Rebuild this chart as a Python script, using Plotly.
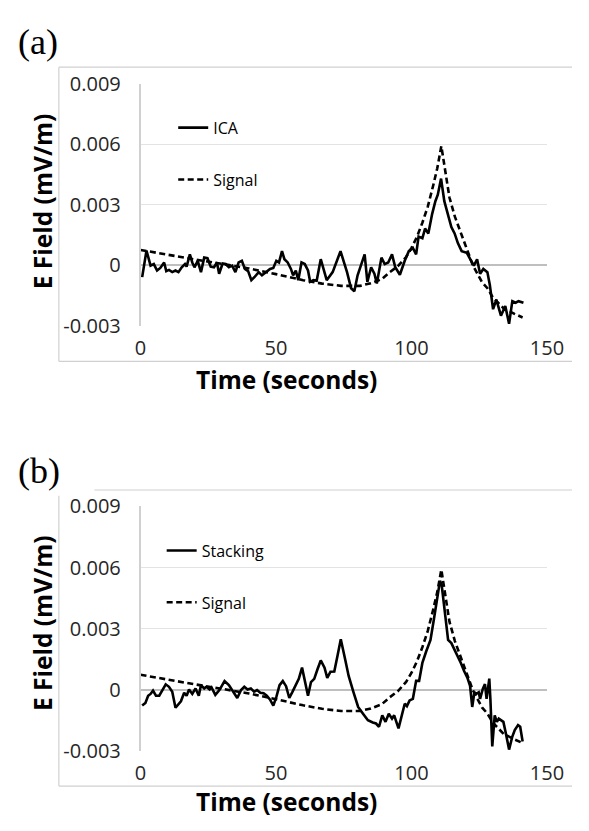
import plotly.graph_objects as go

# ---- data (E field in mV/m, time in seconds) ----
ica_t = [0.6, 2.2, 3.7, 4.9, 6.1, 7.3, 8.7, 9.5, 10.5, 11.7, 12.9, 14.0, 15.2, 16.4, 17.0, 18.2,
         19.1, 19.9, 21.1, 22.3, 23.5, 24.7, 25.9, 27.1, 28.2, 29.0, 30.3, 31.4, 32.6, 33.8, 35.0,
         36.2, 37.4, 38.5, 39.7, 40.9, 42.1, 43.6, 44.8, 46.4, 47.8, 49.0, 50.1, 51.1, 52.2, 53.1,
         54.3, 55.5, 56.3, 57.3, 58.2, 59.4, 60.6, 61.8, 62.6, 63.8, 65.0, 66.5, 68.7, 70.9, 73.8,
         76.2, 77.7, 78.9, 80.1, 81.3, 82.7, 83.7, 85.1, 86.3, 87.2, 88.9, 90.1, 91.4, 92.8, 94.0,
         95.7, 97.5, 99.0, 100.5, 101.7, 102.6, 104.0, 105.0, 106.2, 107.6, 108.8, 109.7, 110.9,
         112.1, 113.3, 114.7, 115.9, 117.1, 118.5, 120.4, 122.0, 123.0, 124.2, 125.3, 126.5, 128.0,
         128.9, 130.1, 131.3, 133.0, 134.6, 136.0, 137.2, 138.4, 139.5, 141.3]
ica_v = [-0.00060, 0.00072, -0.00003, 0.00005, -0.00027, -0.00014, 0.00013, -0.00030, -0.00024,
         -0.00035, -0.00027, -0.00035, -0.00011, 0.00005, -0.00008, 0.00053, 0.00013, -0.00011,
         0.00021, -0.00035, 0.00037, 0.00034, -0.00008, -0.00011, 0.00013, -0.00043, 0.00008,
         0.00005, -0.00011, -0.00003, -0.00035, 0.00013, 0.00021, -0.00019, -0.00030, -0.00075,
         -0.00059, -0.00035, -0.00051, -0.00035, -0.00019, -0.00014, 0.00021, 0.00013, 0.00069,
         0.00029, 0.00013, -0.00019, -0.00051, -0.00027, -0.00075, 0.00013, 0.00005, -0.00027,
         -0.00083, -0.00075, -0.00078, 0.00029, -0.00075, -0.00035, 0.00069, -0.00035, -0.00115,
         -0.00130, -0.00051, -0.00003, 0.00053, -0.00083, -0.00011, -0.00043, -0.00091, 0.00037,
         0.00005, 0.00013, 0.00053, -0.00011, -0.00048, 0.00021, 0.00069, 0.00085, 0.00053,
         0.00141, 0.00133, 0.00181, 0.00157, 0.00253, 0.00317, 0.00349, 0.00429, 0.00317, 0.00261,
         0.00189, 0.00157, 0.00109, 0.00069, 0.00061, 0.00021, -0.00003, 0.00029, -0.00043,
         -0.00019, -0.00035, -0.00099, -0.00219, -0.00171, -0.00251, -0.00203, -0.00291, -0.00179,
         -0.00187, -0.00179, -0.00187]

stack_t = [0.6, 1.8, 2.8, 3.7, 4.6, 5.7, 6.9, 8.1, 9.3, 10.5, 11.7, 12.9, 14.0, 14.9, 16.1, 17.0,
           17.9, 19.1, 20.3, 21.5, 22.3, 23.5, 24.3, 25.5, 26.2, 27.6, 29.1, 31.0, 32.6, 34.2,
           35.7, 37.1, 38.3, 39.5, 40.7, 41.9, 43.0, 44.2, 45.4, 46.6, 47.8, 49.0, 50.1, 51.3,
           52.5, 53.7, 54.9, 56.1, 57.3, 58.4, 59.6, 60.6, 61.8, 62.9, 64.1, 65.3, 66.5, 67.9,
           68.9, 70.1, 71.5, 72.8, 73.9, 75.4, 76.8, 78.6, 80.3, 82.1, 83.9, 85.7, 86.9, 88.0,
           89.2, 90.4, 91.6, 92.8, 93.6, 95.2, 96.7, 97.5, 98.3, 99.3, 100.5, 101.7, 102.8, 104.0,
           105.4, 107.0, 108.2, 109.4, 110.5, 111.1, 112.3, 113.5, 114.7, 115.9, 117.0, 118.2,
           119.4, 120.6, 121.6, 122.4, 123.2, 123.9, 124.8, 125.3, 126.3, 127.1, 127.7, 128.7,
           129.1, 129.8, 130.7, 131.5, 132.2, 133.0, 133.9, 134.8, 136.0, 137.2, 138.1, 139.3,
           140.1, 141.0]
stack_v = [-0.00076, -0.00063, -0.00028, -0.00019, -0.00003, -0.00028, -0.00028, 0.00000, 0.00028,
           0.00016, -0.00008, -0.00087, -0.00071, -0.00055, -0.00013, -0.00028, 0.00003, -0.00019,
           0.00008, -0.00028, 0.00024, 0.00008, 0.00016, 0.00003, 0.00013, -0.00024, 0.00000,
           0.00044, 0.00024, -0.00008, -0.00039, 0.00000, 0.00016, 0.00003, 0.00008, -0.00008,
           0.00000, -0.00013, -0.00016, -0.00028, -0.00047, -0.00076, -0.00035, 0.00024, 0.00044,
           0.00019, -0.00039, -0.00008, 0.00024, 0.00055, 0.00110, 0.00039, -0.00028, 0.00039,
           0.00055, 0.00102, 0.00145, 0.00110, 0.00060, 0.00090, 0.00091, 0.00175, 0.00249,
           0.00157, 0.00069, -0.00011, -0.00083, -0.00116, -0.00148, -0.00159, -0.00164, -0.00180,
           -0.00124, -0.00156, -0.00116, -0.00140, -0.00124, -0.00188, -0.00100, -0.00067, -0.00079,
           -0.00051, -0.00043, 0.00045, 0.00045, 0.00133, 0.00189, 0.00246, 0.00342, 0.00454,
           0.00535, 0.00518, 0.00390, 0.00246, 0.00230, 0.00197, 0.00173, 0.00133, 0.00093,
           0.00061, 0.00021, -0.00083, -0.00011, -0.00019, -0.00011, -0.00043, 0.00005, 0.00029,
           -0.00043, 0.00056, -0.00043, -0.00276, -0.00124, -0.00156, -0.00140, -0.00148, -0.00156,
           -0.00212, -0.00292, -0.00228, -0.00196, -0.00172, -0.00180, -0.00252]

signal_t = [0, 10, 20, 30, 40, 50, 60, 67, 74, 81, 85, 89, 92, 95, 98, 100, 102, 104, 106, 108,
            109.5, 111, 112.5, 114, 116, 118, 120, 122.6, 126, 128, 130, 134, 138, 141]
signal_v = [0.00075, 0.00050, 0.00028, 0.00006, -0.00017, -0.00045, -0.00075, -0.00092, -0.00103,
            -0.00103, -0.00090, -0.00070, -0.00035, -0.00005, 0.00040, 0.00085, 0.00140, 0.00210,
            0.00290, 0.00395, 0.00480, 0.00590, 0.00450, 0.00335, 0.00240, 0.00170, 0.00095,
            0.00000, -0.00085, -0.00115, -0.00160, -0.00215, -0.00242, -0.00260]

y_ticks = [-0.003, 0, 0.003, 0.006, 0.009]
y_tick_labels = ["-0.003", "0", "0.003", "0.006", "0.009"]
x_ticks = [0, 50, 100, 150]
x_tick_labels = ["0", "50", "100", "150"]

W, H = 589, 831
TICK_FONT = dict(family="Open Sans", size=20, color="#262626")
TITLE_FONT = dict(family="Open Sans", size=24.5, color="#000000", weight=700)
LEG_FONT = dict(family="Open Sans", size=16, color="#000000")
GRID = "#e3e3e3"
FRAME = "#d0d0d0"


def px(x):
    return x / W


def py(y):
    return 1 - y / H


fig = go.Figure()

panels = [
    # (axis suffix, noisy name, noisy t, noisy v, plot top, plot bottom, legend key)
    ("", "ICA", ica_t, ica_v, 72, 322, "legend"),
    ("2", "Stacking", stack_t, stack_v, 509, 762, "legend2"),
]

for sfx, name, tt, vv, top, bot, leg in panels:
    xa, ya = "x" + sfx, "y" + sfx
    fig.add_trace(go.Scatter(x=tt, y=vv, mode="lines", name=name,
                             line=dict(color="black", width=2.6),
                             xaxis=xa, yaxis=ya, legend=leg, legendgroup=name + sfx))
    fig.add_trace(go.Scatter(x=signal_t, y=signal_v, mode="lines", name="Signal",
                             line=dict(color="black", width=2.6, dash="6px,3.5px"),
                             xaxis=xa, yaxis=ya, legend=leg, legendgroup="sig" + sfx))
    xkey = "xaxis" + sfx
    ykey = "yaxis" + sfx
    fig.update_layout(**{
        xkey: dict(domain=[px(140), px(563)], range=[0, 150], tickvals=x_ticks,
                   ticktext=x_tick_labels, showgrid=False, zeroline=False, showline=False,
                   ticks="", tickfont=TICK_FONT, ticklabelstandoff=8, anchor=ya,
                   fixedrange=True),
        ykey: dict(domain=[py(bot), py(top)], range=[-0.003, 0.009], tickvals=y_ticks,
                   ticktext=y_tick_labels, showgrid=True, gridcolor=GRID, gridwidth=1,
                   zeroline=True, zerolinecolor="#bfbfbf", zerolinewidth=1.5,
                   showline=True, linecolor="#d0d0d0", linewidth=1.5, ticks="",
                   tickfont=TICK_FONT, ticklabelstandoff=14, anchor=xa, fixedrange=True),
    })

fig.update_layout(
    width=W, height=H,
    margin=dict(l=0, r=0, t=0, b=0),
    paper_bgcolor="white", plot_bgcolor="white",
    legend=dict(x=px(174), y=py(100), xanchor="left", yanchor="top",
                font=LEG_FONT, tracegroupgap=28, bgcolor="rgba(0,0,0,0)"),
    legend2=dict(x=px(162), y=py(537), xanchor="left", yanchor="top",
                 font=LEG_FONT, tracegroupgap=28, bgcolor="rgba(0,0,0,0)"),
)

# chart-area frames
frame_lines = [
    (55, 55, 589, 55), (55, 55, 55, 359), (55, 359, 589, 359),
    (92, 492, 589, 492), (55, 498, 55, 798), (55, 798, 589, 798),
]
for x0, y0, x1, y1 in frame_lines:
    fig.add_shape(type="line", xref="paper", yref="paper",
                  x0=px(x0), y0=py(y0), x1=px(x1), y1=py(y1),
                  line=dict(color=FRAME, width=1.2), layer="below")

# panel letters
for lbl, yc in [("(a)", 29), ("(b)", 472)]:
    fig.add_annotation(text=lbl, xref="paper", yref="paper", x=px(10), y=py(yc),
                       xanchor="left", yanchor="middle", showarrow=False,
                       font=dict(family="Liberation Serif", size=36, color="#000000"))

# axis titles
for yc_x, yc_y in [(378, 194), (814, 630)]:
    fig.add_annotation(text="Time (seconds)", xref="paper", yref="paper", x=px(292), y=py(yc_x),
                       xanchor="center", yanchor="middle", showarrow=False, font=TITLE_FONT,
                       borderpad=0)
    fig.add_annotation(text="E Field (mV/m)", xref="paper", yref="paper", x=px(38), y=py(yc_y),
                       xanchor="center", yanchor="middle", textangle=-90, showarrow=False,
                       font=TITLE_FONT)

fig.write_html("out.html")
